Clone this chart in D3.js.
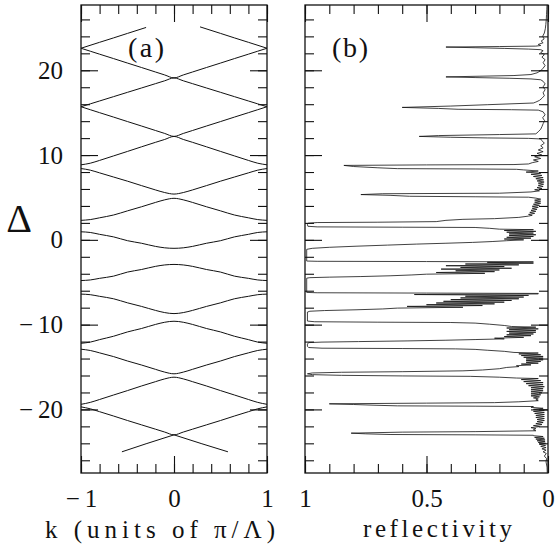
<!DOCTYPE html>
<html>
<head>
<meta charset="utf-8">
<script src="https://cdn.jsdelivr.net/npm/d3@7"></script>
<style>
    body { margin: 0; background: #fff; }
    svg text { font-family: "Liberation Serif", "DejaVu Serif", serif; fill: #111; }
</style>
</head>
<body>
<div id="chart"></div>
<script>
/* DATA */
// Panel (a): k grid shared by the full bands
const kGrid = [-1, -0.9, -0.8, -0.65, -0.5, -0.35, -0.2, -0.1, 0, 0.1, 0.2, 0.35, 0.5, 0.65, 0.8, 0.9, 1];
// Band values (Delta) at each k of kGrid
const band1 = [22.6, 22.25, 21.9, 21.38, 20.85, 20.33, 19.8, 19.45, 19.1, 19.45, 19.8, 20.33, 20.85, 21.38, 21.9, 22.25, 22.6];
const band2 = [15.7, 16.04, 16.38, 16.89, 17.4, 17.91, 18.42, 18.76, 19.1, 18.76, 18.42, 17.91, 17.4, 16.89, 16.38, 16.04, 15.7];
const band3 = [15.7, 15.35, 15.0, 14.48, 13.95, 13.43, 12.9, 12.55, 12.2, 12.55, 12.9, 13.43, 13.95, 14.48, 15.0, 15.35, 15.7];
const band4 = [8.85, 9.04, 9.37, 9.9, 10.43, 10.97, 11.5, 11.84, 12.2, 11.84, 11.5, 10.97, 10.43, 9.9, 9.37, 9.04, 8.85];
const band5 = [8.41, 8.22, 7.9, 7.41, 6.92, 6.4, 5.89, 5.58, 5.4, 5.58, 5.89, 6.4, 6.92, 7.41, 7.9, 8.22, 8.41];
const band6 = [2.3, 2.39, 2.6, 2.93, 3.42, 3.9, 4.41, 4.72, 4.9, 4.72, 4.41, 3.9, 3.42, 2.93, 2.6, 2.39, 2.3];
const band7 = [0.95, 0.87, 0.65, 0.35, -0.1, -0.4, -0.77, -0.94, -1.0, -0.94, -0.77, -0.4, -0.1, 0.35, 0.65, 0.87, 0.95];
const band8 = [-4.8, -4.73, -4.54, -4.28, -3.8, -3.5, -3.13, -2.96, -2.9, -2.96, -3.13, -3.5, -3.8, -4.28, -4.54, -4.73, -4.8];
const band9 = [-6.4, -6.47, -6.66, -6.95, -7.43, -7.85, -8.32, -8.58, -8.7, -8.58, -8.32, -7.85, -7.43, -6.95, -6.66, -6.47, -6.4];
const band10 = [-12.2, -12.06, -11.77, -11.37, -10.86, -10.46, -9.98, -9.72, -9.6, -9.72, -9.98, -10.46, -10.86, -11.37, -11.77, -12.06, -12.2];
const band11 = [-12.9, -13.05, -13.33, -13.77, -14.29, -14.76, -15.27, -15.6, -15.8, -15.6, -15.27, -14.76, -14.29, -13.77, -13.33, -13.05, -12.9];
const band12 = [-19.4, -19.17, -18.83, -18.3, -17.78, -17.24, -16.73, -16.4, -16.2, -16.4, -16.73, -17.24, -17.78, -18.3, -18.83, -19.17, -19.4];
const band13 = [-19.7, -19.93, -20.27, -20.78, -21.31, -21.82, -22.33, -22.67, -23.0, -22.67, -22.33, -21.82, -21.31, -20.78, -20.27, -19.93, -19.7];
// Partial bands cut at the top and bottom of the computed range
const topLeftK = [-1, -0.8, -0.65, -0.5, -0.3];
const topLeftD = [22.6, 23.3, 23.82, 24.35, 25.05];
const topRightK = [0.28, 0.5, 0.65, 0.8, 1];
const topRightD = [25.12, 24.35, 23.82, 23.3, 22.6];
const botLeftK = [-0.56, -0.3, 0];
const botLeftD = [-25.0, -24.05, -23.0];
const botRightK = [0, 0.3, 0.58];
const botRightD = [-23.0, -24.05, -25.0];

// Panel (b): reflectivity spectrum [Delta, R], top to bottom
const spectrum = [
    [27.7, 0.004], [27.2, 0.005], [26.6, 0.006], [26.0, 0.007], [25.4, 0.009], [24.9, 0.011], [24.4, 0.015], [24.0, 0.022], [23.7, 0.016], [23.45, 0.028], [23.25, 0.02], [23.05, 0.04], [22.92, 0.03],
    [22.85, 0.05], [22.8, 0.2], [22.74, 0.42], [22.66, 0.3], [22.58, 0.18], [22.5, 0.08], [22.43, 0.03],
    [22.3, 0.02], [22.1, 0.03], [21.85, 0.015], [21.55, 0.025], [21.25, 0.012], [20.9, 0.02], [20.55, 0.012], [20.25, 0.02], [19.95, 0.03], [19.7, 0.045], [19.5, 0.07],
    [19.38, 0.14], [19.3, 0.28], [19.22, 0.42], [19.14, 0.3], [19.06, 0.16], [18.98, 0.07], [18.88, 0.03],
    [18.7, 0.02], [18.4, 0.012], [18.05, 0.02], [17.7, 0.012], [17.35, 0.02], [17.0, 0.015], [16.7, 0.025], [16.45, 0.035], [16.25, 0.05],
    [16.14, 0.06], [15.94, 0.25], [15.78, 0.4], [15.62, 0.6], [15.5, 0.45], [15.4, 0.37], [15.35, 0.15], [15.3, 0.04],
    [15.1, 0.02], [14.75, 0.012], [14.4, 0.022], [14.05, 0.014], [13.7, 0.02], [13.35, 0.025], [13.05, 0.03], [12.75, 0.04],
    [12.5, 0.05], [12.42, 0.2], [12.3, 0.45], [12.2, 0.53], [12.1, 0.4], [12.02, 0.25], [11.97, 0.08], [11.9, 0.03],
    [11.7, 0.025], [11.4, 0.015], [11.1, 0.03], [10.85, 0.02], [10.6, 0.04], [10.4, 0.02], [10.2, 0.045], [10.0, 0.025], [9.8, 0.055], [9.6, 0.03], [9.42, 0.06], [9.25, 0.04], [9.1, 0.065],
    [8.95, 0.08], [8.88, 0.14], [8.84, 0.5], [8.78, 0.84], [8.65, 0.8], [8.5, 0.7], [8.4, 0.62], [8.36, 0.3], [8.32, 0.13],
    [8.25, 0.1], [8.12, 0.04], [7.99, 0.09], [7.86, 0.03], [7.73, 0.07], [7.6, 0.025], [7.47, 0.06], [7.34, 0.02], [7.21, 0.05], [7.08, 0.018], [6.95, 0.045], [6.82, 0.016], [6.69, 0.04], [6.56, 0.018], [6.43, 0.04], [6.3, 0.02], [6.17, 0.045], [6.04, 0.025], [5.91, 0.055], [5.78, 0.035], [5.65, 0.07],
    [5.5, 0.2], [5.44, 0.68], [5.34, 0.77], [5.25, 0.65], [5.14, 0.57], [5.08, 0.3], [5.03, 0.08],
    [4.92, 0.05], [4.8, 0.03], [4.68, 0.055], [4.56, 0.03], [4.44, 0.055], [4.32, 0.03], [4.2, 0.06], [4.08, 0.035], [3.96, 0.065], [3.84, 0.04], [3.72, 0.065], [3.6, 0.045], [3.48, 0.07], [3.36, 0.05], [3.24, 0.075], [3.12, 0.055], [3.0, 0.08], [2.9, 0.065], [2.8, 0.08],
    [2.65, 0.12], [2.5, 0.22], [2.42, 0.35], [2.3, 0.42], [2.15, 0.46], [2.08, 0.7], [2.04, 0.95], [1.96, 0.988], [1.78, 0.99], [1.6, 0.988], [1.53, 0.95], [1.49, 0.6], [1.46, 0.3], [1.36, 0.24], [1.26, 0.2],
    [1.2, 0.06], [1.1, 0.18], [1.0, 0.05], [0.9, 0.17], [0.8, 0.06], [0.7, 0.16], [0.6, 0.05], [0.5, 0.16], [0.4, 0.06], [0.3, 0.17], [0.2, 0.07], [0.1, 0.18], [0.0, 0.1],
    [-0.1, 0.17], [-0.2, 0.23], [-0.3, 0.31], [-0.4, 0.42], [-0.5, 0.54], [-0.62, 0.66], [-0.75, 0.79], [-0.88, 0.9], [-1.0, 0.97], [-1.12, 0.993], [-2.5, 0.993], [-2.53, 0.95], [-2.56, 0.5], [-2.6, 0.06],
    [-2.65, 0.25], [-2.75, 0.06], [-2.85, 0.34], [-2.95, 0.12], [-3.05, 0.42], [-3.15, 0.18], [-3.25, 0.36], [-3.35, 0.15], [-3.45, 0.44], [-3.55, 0.2], [-3.65, 0.38], [-3.75, 0.22], [-3.85, 0.46], [-3.95, 0.26], [-4.05, 0.5],
    [-4.14, 0.56], [-4.24, 0.65], [-4.33, 0.77], [-4.4, 0.9], [-4.46, 0.98], [-4.52, 0.993], [-6.2, 0.993], [-6.24, 0.95], [-6.28, 0.5], [-6.32, 0.04],
    [-6.38, 0.04], [-6.45, 0.55], [-6.55, 0.08], [-6.65, 0.34], [-6.75, 0.1], [-6.85, 0.36], [-6.95, 0.12], [-7.05, 0.4], [-7.15, 0.15], [-7.25, 0.43], [-7.35, 0.18], [-7.45, 0.46], [-7.55, 0.22], [-7.65, 0.5], [-7.75, 0.27], [-7.85, 0.58], [-7.95, 0.35], [-8.05, 0.62],
    [-8.15, 0.68], [-8.25, 0.79], [-8.34, 0.92], [-8.42, 0.98], [-8.52, 0.99], [-9.58, 0.99], [-9.66, 0.96], [-9.71, 0.7], [-9.75, 0.4], [-9.82, 0.3], [-9.95, 0.24], [-10.1, 0.18], [-10.22, 0.15],
    [-10.3, 0.05], [-10.4, 0.17], [-10.5, 0.04], [-10.6, 0.16], [-10.7, 0.05], [-10.8, 0.17], [-10.9, 0.05], [-11.0, 0.16], [-11.1, 0.06], [-11.2, 0.17], [-11.3, 0.07], [-11.4, 0.18], [-11.5, 0.1], [-11.6, 0.22], [-11.68, 0.18],
    [-11.76, 0.3], [-11.84, 0.42], [-11.92, 0.58], [-12.0, 0.78], [-12.06, 0.93], [-12.12, 0.985], [-12.3, 0.99], [-12.55, 0.99], [-12.7, 0.985], [-12.78, 0.93], [-12.82, 0.6], [-12.86, 0.38], [-12.92, 0.3], [-13.02, 0.25], [-13.15, 0.18], [-13.28, 0.14],
    [-13.35, 0.04], [-13.45, 0.12], [-13.55, 0.03], [-13.65, 0.11], [-13.75, 0.02], [-13.85, 0.1], [-13.95, 0.02], [-14.05, 0.09], [-14.15, 0.02], [-14.25, 0.09], [-14.35, 0.03], [-14.45, 0.09], [-14.55, 0.04], [-14.65, 0.11], [-14.75, 0.07], [-14.85, 0.13], [-14.95, 0.12],
    [-15.05, 0.17], [-15.2, 0.2], [-15.35, 0.27], [-15.45, 0.35], [-15.55, 0.6], [-15.62, 0.85], [-15.7, 0.97], [-15.8, 0.99], [-15.9, 0.97], [-15.98, 0.85], [-16.05, 0.6], [-16.1, 0.32], [-16.2, 0.2], [-16.3, 0.13],
    [-16.36, 0.04], [-16.48, 0.11], [-16.6, 0.03], [-16.72, 0.1], [-16.84, 0.02], [-16.96, 0.09], [-17.08, 0.02], [-17.2, 0.08], [-17.32, 0.015], [-17.44, 0.07], [-17.56, 0.02], [-17.68, 0.07], [-17.8, 0.02], [-17.92, 0.07], [-18.04, 0.025], [-18.16, 0.07], [-18.28, 0.03], [-18.4, 0.07], [-18.52, 0.035], [-18.64, 0.06], [-18.76, 0.04], [-18.88, 0.05],
    [-18.97, 0.04], [-19.1, 0.12], [-19.2, 0.22], [-19.26, 0.5], [-19.34, 0.9], [-19.42, 0.8], [-19.5, 0.72], [-19.58, 0.62], [-19.62, 0.3], [-19.66, 0.06],
    [-19.75, 0.07], [-19.87, 0.02], [-19.99, 0.06], [-20.11, 0.015], [-20.23, 0.06], [-20.35, 0.015], [-20.47, 0.055], [-20.59, 0.015], [-20.71, 0.05], [-20.83, 0.015], [-20.95, 0.05], [-21.07, 0.015], [-21.19, 0.045], [-21.31, 0.015], [-21.43, 0.045], [-21.55, 0.02], [-21.67, 0.05], [-21.79, 0.025], [-21.91, 0.06], [-22.03, 0.035], [-22.15, 0.07], [-22.27, 0.05], [-22.4, 0.06], [-22.52, 0.05],
    [-22.62, 0.3], [-22.68, 0.6], [-22.8, 0.81], [-22.88, 0.75], [-22.96, 0.65], [-23.0, 0.3], [-23.05, 0.06],
    [-23.1, 0.06], [-23.2, 0.02], [-23.3, 0.055], [-23.4, 0.015], [-23.5, 0.05], [-23.6, 0.012], [-23.7, 0.045], [-23.8, 0.012], [-23.9, 0.04], [-24.0, 0.01], [-24.12, 0.035], [-24.24, 0.01], [-24.36, 0.03], [-24.5, 0.008], [-24.65, 0.025], [-24.8, 0.008], [-25.0, 0.02], [-25.2, 0.007], [-25.5, 0.015], [-25.8, 0.006], [-26.2, 0.008], [-26.8, 0.004], [-27.5, 0.003]
];

// Tick labels
const kLabels = [-1, 0, 1];
const rLabels = [1, 0.5, 0];
const dLabels = [-20, -10, 0, 10, 20];

/* LAYOUT */
const W = 556, H = 551;
const yTop = 5, yBot = 473;
const fs = 25;
const ink = "#111";

const svg = d3.select("#chart")
    .append("svg")
    .attr("width", W)
    .attr("height", H);
svg.append("rect").attr("width", W).attr("height", H).attr("fill", "#fff");

// Scales
const y = d3.scaleLinear().domain([-27.5, 27.7]).range([yBot, yTop]);
const xa = d3.scaleLinear().domain([-1, 1]).range([81, 267]);
const xb = d3.scaleLinear().domain([1, 0]).range([305, 548]);

const fmt = (d) => d < 0 ? "\u2212\u2009" + Math.abs(d) : String(d);
const dMinor = d3.range(-26, 27, 2);

// Draw a boxed frame with inward ticks on all four sides
function frame(x, xMinor, xMajor, withYLabels) {
    const [x0, x1] = x.range();
    const style = (g) => {
        g.select(".domain").remove();
        g.selectAll("line").attr("stroke", ink).attr("stroke-width", 1.1);
        g.attr("font-family", null).attr("font-size", fs);
        g.selectAll("text").attr("fill", ink);
    };
    // bottom
    svg.append("g").attr("transform", `translate(0,${yBot})`)
        .call(d3.axisBottom(x).tickValues(xMinor).tickSize(-9).tickFormat(""))
        .call(style);
    svg.append("g").attr("transform", `translate(0,${yBot})`)
        .call(d3.axisBottom(x).tickValues(xMajor).tickSize(-17).tickPadding(16).tickFormat(fmt))
        .call(style);
    // top
    svg.append("g").attr("transform", `translate(0,${yTop})`)
        .call(d3.axisTop(x).tickValues(xMinor).tickSize(-9).tickFormat(""))
        .call(style);
    svg.append("g").attr("transform", `translate(0,${yTop})`)
        .call(d3.axisTop(x).tickValues(xMajor).tickSize(-17).tickFormat(""))
        .call(style);
    // left
    svg.append("g").attr("transform", `translate(${x0},0)`)
        .call(d3.axisLeft(y).tickValues(dMinor).tickSize(-9).tickFormat(""))
        .call(style);
    svg.append("g").attr("transform", `translate(${x0},0)`)
        .call(d3.axisLeft(y).tickValues(dLabels).tickSize(-17).tickPadding(18).tickFormat(withYLabels ? fmt : ""))
        .call(style);
    // right
    svg.append("g").attr("transform", `translate(${x1},0)`)
        .call(d3.axisRight(y).tickValues(dMinor).tickSize(-9).tickFormat(""))
        .call(style);
    svg.append("g").attr("transform", `translate(${x1},0)`)
        .call(d3.axisRight(y).tickValues(dLabels).tickSize(-17).tickFormat(""))
        .call(style);
    // box
    svg.append("rect")
        .attr("x", Math.min(x0, x1)).attr("y", yTop)
        .attr("width", Math.abs(x1 - x0)).attr("height", yBot - yTop)
        .attr("fill", "none").attr("stroke", ink).attr("stroke-width", 1.3);
}

frame(xa, xa.ticks(10), kLabels, true);
frame(xb, xb.ticks(10), rLabels, false);

/* PANEL (a): bands */
const bandLine = d3.line()
    .x((d) => xa(d[0]))
    .y((d) => y(d[1]))
    .curve(d3.curveMonotoneX);

const bands = [band1, band2, band3, band4, band5, band6, band7, band8, band9, band10, band11, band12, band13];
const pieces = bands.map((b) => kGrid.map((k, i) => [k, b[i]]));
pieces.push(topLeftK.map((k, i) => [k, topLeftD[i]]));
pieces.push(topRightK.map((k, i) => [k, topRightD[i]]));
pieces.push(botLeftK.map((k, i) => [k, botLeftD[i]]));
pieces.push(botRightK.map((k, i) => [k, botRightD[i]]));

svg.append("g")
    .selectAll("path")
    .data(pieces)
    .join("path")
    .attr("d", bandLine)
    .attr("fill", "none")
    .attr("stroke", ink)
    .attr("stroke-width", 1);

/* PANEL (b): reflectivity */
svg.append("path")
    .datum(spectrum)
    .attr("d", d3.line().x((d) => xb(d[1])).y((d) => y(d[0])))
    .attr("fill", "none")
    .attr("stroke", ink)
    .attr("stroke-width", 0.8)
    .attr("stroke-linejoin", "round");

/* LABELS */
svg.append("text").attr("x", 128).attr("y", 57).attr("font-size", 28)
    .attr("textLength", 36).attr("lengthAdjust", "spacing").text("(a)");
svg.append("text").attr("x", 332).attr("y", 57).attr("font-size", 28)
    .attr("textLength", 36).attr("lengthAdjust", "spacing").text("(b)");
svg.append("text").attr("x", 19).attr("y", 232).attr("font-size", 40)
    .attr("text-anchor", "middle").text("\u0394");
svg.append("text").attr("x", 45).attr("y", 538).attr("font-size", fs)
    .attr("textLength", 230).attr("lengthAdjust", "spacing").text("k (units of \u03c0/\u039b)");
svg.append("text").attr("x", 363).attr("y", 537).attr("font-size", fs)
    .attr("textLength", 149).attr("lengthAdjust", "spacing").text("reflectivity");
</script>
</body>
</html>
